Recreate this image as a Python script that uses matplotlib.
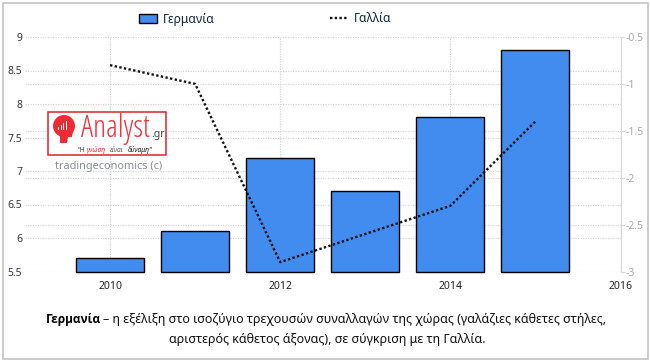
import matplotlib
matplotlib.use('Agg')
import matplotlib.pyplot as plt
from matplotlib.lines import Line2D
from matplotlib.patches import Circle, Polygon, Rectangle

plt.rcParams['font.family'] = ['Noto Sans', 'DejaVu Sans']

years = [2010, 2011, 2012, 2013, 2014, 2015]
germany = [5.7, 6.1, 7.2, 6.7, 7.8, 8.8]
france = [-0.8, -1.0, -2.9, -2.6, -2.3, -1.4]
left_ticks = [5.5, 6, 6.5, 7, 7.5, 8, 8.5, 9]
left_labels = ['5.5', '6', '6.5', '7', '7.5', '8', '8.5', '9']
right_ticks = [-3, -2.5, -2, -1.5, -1, -0.5]
right_labels = ['-3', '-2.5', '-2', '-1.5', '-1', '-0.5']
x_ticks = [2010, 2012, 2014, 2016]

W, H = 650, 362
BLUE = '#428bef'
GRID = '#d6d6d6'
BASE = 5.5

fig = plt.figure(figsize=(W / 100, H / 100), dpi=100, facecolor='white')
ax = fig.add_axes([25 / W, 1 - 271.5 / H, 595.5 / W, 234.5 / H])
ax.set_xlim(2009, 2016)
ax.set_ylim(BASE, 9)

ax.bar(years, [g - BASE for g in germany], bottom=BASE, width=0.8, color=BLUE, edgecolor='black',
       linewidth=1.0, zorder=3, clip_on=False)

# right axis grid has to stay behind the bars, so it goes on the left axes as minor ticks
to_left = lambda v: BASE + (v + 3) * 3.5 / 2.5
ax.set_yticks([to_left(v) for v in right_ticks], minor=True)
ax.set_yticks(left_ticks)
ax.set_yticklabels(left_labels)
ax.set_xticks(x_ticks)
ax.grid(True, which='both', color=GRID, linestyle=(0, (1, 1)), linewidth=0.9, zorder=0)
ax.set_axisbelow(True)
ax.tick_params(axis='both', which='both', length=0)
ax.tick_params(axis='x', labelsize=7.5, colors='#222222', pad=7)
ax.tick_params(axis='y', labelsize=7.5, colors='#333344', pad=2)
for s in ax.spines.values():
    s.set_visible(False)

ax2 = ax.twinx()
ax2.set_ylim(-3, -0.5)
ax2.plot(years, france, color='#111111', linestyle=(0, (1, 1)), linewidth=1.7, zorder=5)
ax2.set_yticks(right_ticks)
ax2.set_yticklabels(right_labels)
ax2.tick_params(axis='y', length=3, width=0.7, color=GRID, labelsize=7.5, labelcolor='#aaaaaa', pad=1)
for s in ['top', 'left', 'bottom']:
    ax2.spines[s].set_visible(False)
ax2.spines['right'].set_color(GRID)
ax2.spines['right'].set_linestyle((0, (1, 1)))

# overlay in pixel coordinates: frame, logo, caption
ov = fig.add_axes([0, 0, 1, 1], facecolor='none')
ov.set_xlim(0, W)
ov.set_ylim(H, 0)
ov.axis('off')
ov.add_patch(Rectangle((2.5, 2.5), 645, 356, fill=False, edgecolor='#c4c4c4', linewidth=1.2))

ov.add_patch(Rectangle((47.5, 111.5), 118.5, 43.5, facecolor='white', edgecolor='#e0202c', linewidth=1.1))
ov.add_patch(Circle((64, 126), 11, color='#ee2a35', lw=0))
ov.add_patch(Polygon([[57, 131], [73, 131], [72, 137], [68, 137], [67, 143], [60, 143], [60, 137]],
                     color='#ee2a35', lw=0))
for bx, bh in [(58, 3), (60.5, 5), (63, 7), (65.5, 9)]:
    ov.add_patch(Rectangle((bx, 130 - bh), 1.2, bh, color='white', lw=0))
ov.text(81, 137, 'Analyst', color='#ee3340', fontsize=22, ha='left', va='baseline',
        family='Open Sans', stretch='condensed')
ov.text(151, 137, '.gr', color='#444444', fontsize=7.5, ha='left', va='baseline')
ov.text(78, 150, '"Η', color='#444444', fontsize=4.8, va='center')
ov.text(87, 150, 'γνώση', color='#e0202c', fontsize=4.8, va='center', style='italic')
ov.text(110, 150, 'είναι', color='#555555', fontsize=4.8, va='center', style='italic')
ov.text(128, 150, 'δύναμη"', color='#111111', fontsize=4.8, va='center', style='italic')
ov.text(55, 166, 'tradingeconomics (c)', color='#8a8f96', fontsize=7.9, va='center', ha='left')

ov.text(46, 320, 'Γερμανία', fontsize=8.6, fontweight='bold', color='black', va='center', ha='left',
        family='Open Sans')
ov.text(103, 320, '– η εξέλιξη στο ισοζύγιο τρεχουσών συναλλαγών της χώρας (γαλάζιες κάθετες στήλες,',
        fontsize=9.0, color='#111111', va='center', ha='left')
ov.text(327, 339, 'αριστερός κάθετος άξονας), σε σύγκριση με τη Γαλλία.', fontsize=9.0,
        color='#111111', va='center', ha='center')

handles = [Rectangle((0, 0), 1, 1, facecolor=BLUE, edgecolor='black', linewidth=1.0),
           Line2D([0], [0], color='#111111', linestyle=(0, (1, 1)), linewidth=1.7)]
fig.legend(handles, ['Γερμανία', 'Γαλλία'], ncol=2, frameon=False, fontsize=8.7,
           loc='center', bbox_to_anchor=(265 / W, 1 - 19 / H), bbox_transform=fig.transFigure,
           columnspacing=9.5, handlelength=1.5, handleheight=0.7, handletextpad=0.5,
           labelcolor='#0d2440')

fig.savefig('out.png', dpi=100)
